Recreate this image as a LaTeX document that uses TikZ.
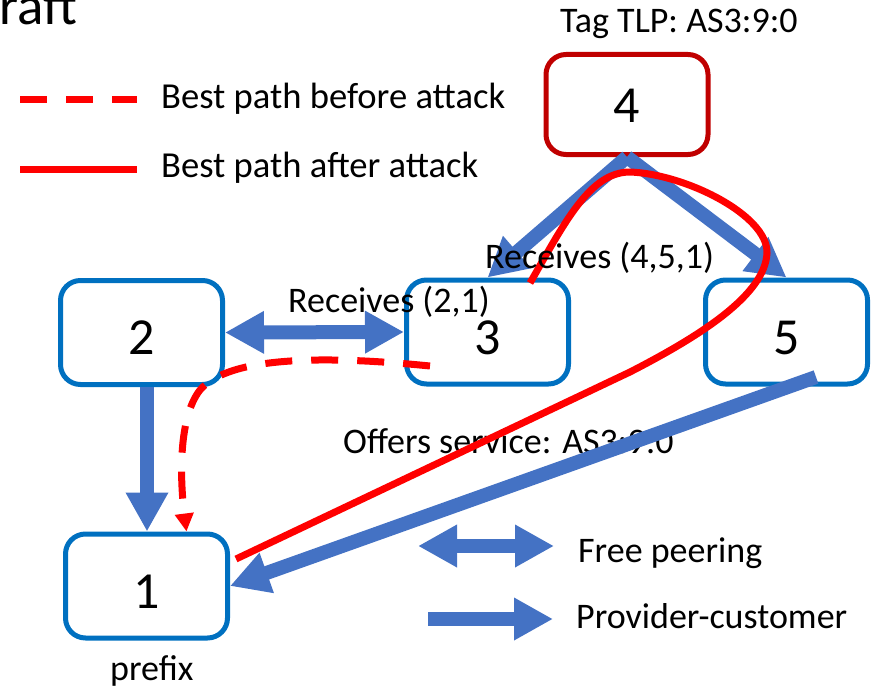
\documentclass[tikz,border=0pt]{standalone}
\usepackage{fontspec}
\setmainfont{Carlito}
\usetikzlibrary{arrows.meta}
\definecolor{nodeblue}{HTML}{0070C0}
\definecolor{arrowblue}{HTML}{4472C4}
\definecolor{pathred}{HTML}{FF0000}
\definecolor{tagred}{HTML}{C00000}
\begin{document}
\begin{tikzpicture}[x=1pt,y=-1pt,
  asbox/.style={draw=nodeblue, line width=5pt, rounded corners=20pt, minimum width=162pt, minimum height=104pt, font=\fontsize{52}{52}\selectfont, text height=44pt, text depth=0pt, inner sep=0pt},
  tagbox/.style={asbox, draw=tagred},
  lbl/.style={font=\fontsize{36}{36}\selectfont, inner sep=0pt, anchor=base west},
  peer/.style={line width=14pt, draw=arrowblue, {Triangle[width=40pt,length=39pt]}-{Triangle[width=40pt,length=39pt]}},
  prov/.style={line width=14pt, draw=arrowblue, -{Triangle[width=40pt,length=39pt]}},
  after/.style={draw=pathred, line width=7pt},
  before/.style={draw=pathred, line width=7pt, dash pattern=on 27pt off 19pt},
]
\useasboundingbox (0,0) rectangle (874,690);

% AS nodes
\node[asbox] (n2) at (141.5,332.5) {2};
\node[asbox] (n3) at (487.5,332) {3};
\node[asbox] (n5) at (786.5,332) {5};
\node[asbox] (n1) at (146.5,586) {1};
\node[tagbox, minimum height=100pt, text height=36pt] (n4) at (627,104.5) {4};

% texts
\node[lbl, font=\fontsize{55}{55}\selectfont] (raft) at (-1,25) {raft};
\node[lbl] (tag) at (560,33) {Tag TLP: AS3:9:0};
\node[lbl, font=\fontsize{36.6}{36.6}\selectfont] (leg1) at (161,108) {Best path before attack};
\node[lbl, font=\fontsize{36.6}{36.6}\selectfont] (leg2) at (161,177) {Best path after attack};
\node[lbl] (offers) at (343,453) {Offers service: AS3:9:0};
\node[lbl] (free) at (578,562) {Free peering};
\node[lbl] (provc) at (576,628) {Provider-customer};
\node[lbl] (prefix) at (110,680) {prefix};

% legend lines
\coordinate (lb1) at (20,100);
\coordinate (lb2) at (137,100);
\coordinate (la1) at (20,169);
\coordinate (la2) at (137,169);
\draw[before] (lb1) -- (lb2);
\draw[after] (la1) -- (la2);

% blue relationships
\draw[prov] ([xshift=5.5pt]n2.south) -- ([xshift=0.5pt]n1.north);
\draw[peer] (n2.east) -- (n3.west);
\draw[prov] (n4.south) -- (n3.north);
\draw[prov] (n4.south) -- (n5.north);
\coordinate (s5) at (816,377);
\draw[prov] (s5) -- (n1.east);

% legend arrows
\coordinate (pe1) at (418,546);
\coordinate (pe2) at (554,546);
\coordinate (pc1) at (428,619);
\coordinate (pc2) at (553,619);
\draw[peer] (pe1) -- (pe2);
\draw[prov] (pc1) -- (pc2);

% best path before attack
\coordinate (b3) at (430,366);
\draw[before, -{Triangle[width=18pt,length=18pt]}] (b3) .. controls (330,356) and (230,355) .. (200,390) .. controls (178,418) and (180,480) .. ([xshift=40pt]n1.north);

% best path after attack
\coordinate (a3) at (530,283);
\coordinate (a1) at (236,559);
\draw[after] (a3) .. controls (565,222) and (590,172) .. (630,172) .. controls (685,174) and (768,215) .. (767,253) .. controls (765,295) and (700,336) .. (630,372) -- (a1);

% labels on top
\node[lbl] (rec451) at (485,268) {Receives (4,5,1)};
\node[lbl] (rec21) at (288,312) {Receives (2,1)};
\end{tikzpicture}
\end{document}
